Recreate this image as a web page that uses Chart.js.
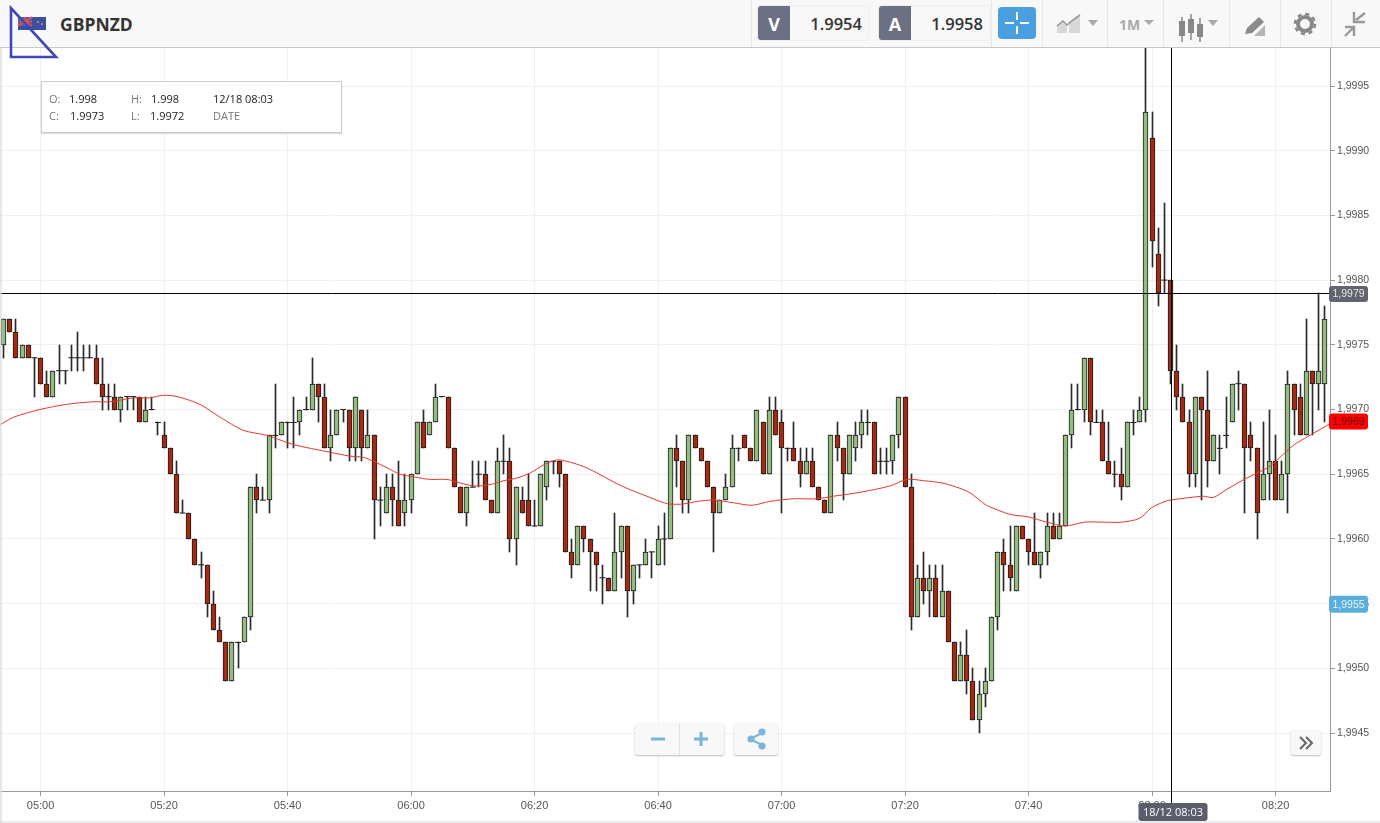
<!DOCTYPE html>
<html>
<head>
<meta charset="utf-8">
<title>GBPNZD</title>
<script src="https://cdn.jsdelivr.net/npm/chart.js@4/dist/chart.umd.min.js"></script>
<style>
  html, body { margin: 0; padding: 0; background: #fff; overflow: hidden; }
  body { width: 1380px; height: 823px; position: relative; font-family: "Open Sans", sans-serif; }
  #priceChart { position: absolute; left: 0; top: 0; }
  .abs { position: absolute; }
  #topbar { position: absolute; left: 0; top: 0; width: 1380px; height: 47px; background: #f8f8f8; border-bottom: 1px solid #c9c9c9; }
  .sep { position: absolute; top: 0; width: 1px; height: 47px; background: #e6e6e6; }
  .quote { position: absolute; top: 5px; width: 112px; height: 36px; border: 1px solid #eee; border-radius: 3px; box-sizing: border-box; }
  .quote b { position: absolute; left: 0; top: 0; width: 32px; height: 34px; background: #6b7084; color: #fff; font-size: 18px; line-height: 36px; text-align: center; border-radius: 3px 0 0 3px; }
  .quote span { position: absolute; right: 6px; top: 0; font-size: 16.5px; line-height: 36px; font-weight: 600; color: #333; }
  #symbol { position: absolute; left: 60px; top: 12px; font-size: 17.5px; line-height: 24px; font-weight: 700; color: #333; }
  #info { position: absolute; left: 41px; top: 81px; width: 299px; height: 50px; background: #fff; border: 1px solid #ccc; box-shadow: 0 1px 1px #ddd; font-size: 11px; line-height: 14px; color: #222; }
  #info span { position: absolute; white-space: nowrap; }
  #info .k { color: #777; }
  .btn { position: absolute; background: #f8f8f8; border-radius: 3px; box-shadow: 0 1px 2px #bbb; color: #7ab6dc; text-align: center; }
  #edge { position: absolute; left: 0; top: 48px; width: 3px; height: 775px; background: linear-gradient(to right, #ddd, rgba(255,255,255,0)); }
  #foot { position: absolute; left: 0; top: 821px; width: 1380px; height: 2px; background: #ececec; }
</style>
</head>
<body>
<div id="foot"></div>
<canvas id="priceChart" width="1380" height="823"></canvas>
<div id="edge"></div>

<div id="topbar">
  <div class="sep" style="left:751px"></div>
  <div class="sep" style="left:991px"></div>
  <div class="sep" style="left:1042px"></div>
  <div class="sep" style="left:1107px"></div>
  <div class="sep" style="left:1163px"></div>
  <div class="sep" style="left:1229px"></div>
  <div class="sep" style="left:1280px"></div>
  <div class="sep" style="left:1331px"></div>
  <div id="symbol">GBPNZD</div>
  <div class="quote" style="left:757px"><b>V</b><span>1.9954</span></div>
  <div class="quote" style="left:878px"><b>A</b><span>1.9958</span></div>
  <div class="abs" style="left:998px;top:7px;width:38px;height:32px;background:#4a9fe0;border-radius:4px"></div>
  <svg class="abs" style="left:0;top:0" width="1380" height="47">
    <!-- flag -->
    <rect x="18" y="17" width="28" height="13" fill="#3b4f9e"/>
    <rect x="18" y="17" width="14" height="9" fill="#5a5f96"/>
    <path d="M18 17L32 26M32 17L18 26M25 17V26M18 21.5H32" stroke="#d9525e" stroke-width="1.6"/>
    <circle cx="38" cy="22" r="1" fill="#e88"/><circle cx="42" cy="24" r="1" fill="#e88"/>
    <!-- crosshair button -->
    <path d="M1005 23H1014M1020 23H1029M1017 12V20M1017 26V34" stroke="#fff" stroke-width="2"/>
    <!-- area icon -->
    <path d="M1057 33V26L1063 22L1067 26V33ZM1069 33V22L1080 16V33Z" fill="#d8d8d8"/>
    <path d="M1057 26L1063 21L1067 25L1073 20L1080 15" stroke="#999" stroke-width="1.6" fill="none"/>
    <path d="M1088 20H1098L1093 26Z" fill="#aaa"/>
    <text x="1119" y="30" font-family="Open Sans" font-size="14" font-weight="700" fill="#aaa">1M</text>
    <path d="M1144 20H1154L1149 25Z" fill="#aaa"/>
    <!-- candles icon -->
    <path d="M1182 17V42M1191 14V40M1200 18V42" stroke="#888" stroke-width="1.5"/>
    <path d="M1179 21h6v15h-6zM1188 19h6v14h-6zM1197 24h6v13h-6z" fill="#888"/>
    <path d="M1208 20H1218L1213 26Z" fill="#aaa"/>
    <!-- drawing icon -->
    <path d="M1245 34L1247 28L1259 17L1264 22L1252 33Z" fill="#8a8a8a"/>
    <path d="M1254 36L1265 25V36Z" fill="#b5b5b5"/>
    <!-- gear -->
    <circle cx="1305" cy="24" r="7" fill="none" stroke="#888" stroke-width="4"/>
    <circle cx="1305" cy="24" r="10" fill="none" stroke="#888" stroke-width="2.6" stroke-dasharray="4 3.85"/>
    <!-- collapse arrows -->
    <path d="M1356 20L1365 13M1354 12V22H1365" stroke="#999" stroke-width="2.4" fill="none"/>
    <path d="M1345 36L1353 28M1345 27H1354V36" stroke="#999" stroke-width="2.4" fill="none"/>
  </svg>
</div>

<svg class="abs" style="left:0;top:0" width="70" height="70">
  <path d="M11 8V57H56Z" fill="none" stroke="#3f48b8" stroke-width="2.6"/>
</svg>

<div id="info">
  <span class="k" style="left:7px;top:10px">O:</span><span style="left:27px;top:10px">1.998</span>
  <span class="k" style="left:89px;top:10px">H:</span><span style="left:109px;top:10px">1.998</span>
  <span style="left:171px;top:10px">12/18 08:03</span>
  <span class="k" style="left:7px;top:27px">C:</span><span style="left:28px;top:27px">1.9973</span>
  <span class="k" style="left:89px;top:27px">L:</span><span style="left:108px;top:27px">1.9972</span>
  <span class="k" style="left:171px;top:27px">DATE</span>
</div>

<div class="btn" style="left:635px;top:723px;width:89px;height:32px"></div>
<div class="abs" style="left:679px;top:723px;width:1px;height:32px;background:#e2e2e2"></div>
<div class="btn" style="left:734px;top:723px;width:44px;height:32px"></div>
<div class="btn" style="left:1291px;top:730px;width:30px;height:25px"></div>
<svg class="abs" style="left:0;top:700px" width="1380" height="70">
  <path d="M651 39H665M694 39H708M701 32V46" stroke="#7ab6dc" stroke-width="3"/>
  <path d="M762 33L750 39L762 45" stroke="#7ab6dc" stroke-width="2" fill="none"/>
  <circle cx="762" cy="32" r="3.6" fill="#7ab6dc"/><circle cx="751" cy="39" r="3.6" fill="#7ab6dc"/><circle cx="762" cy="46" r="3.6" fill="#7ab6dc"/>
  <path d="M1300 37L1306 43L1300 49M1306 37L1312 43L1306 49" stroke="#666" stroke-width="2" fill="none"/>
</svg>

<script>
// first candle is 04:54, one candle per minute
const firstMinute = 294;

const opens = [
  1.9975,1.9977,1.9976,1.9974,1.9975,1.9974,1.9974,1.9972,1.9971,1.9973,
  1.9973,1.9974,1.9974,1.9974,1.9974,1.9974,1.9972,1.9971,1.9971,1.9970,
  1.9971,1.9971,1.9971,1.9969,1.9970,1.9969,1.9968,1.9967,1.9965,1.9962,
  1.9962,1.9960,1.9958,1.9958,1.9955,1.9953,1.9952,1.9949,1.9952,1.9952,
  1.9954,1.9964,1.9963,1.9963,1.9968,1.9968,1.9969,1.9969,1.9969,1.9970,
  1.9970,1.9972,1.9971,1.9967,1.9968,1.9970,1.9970,1.9967,1.9970,1.9967,
  1.9968,1.9963,1.9962,1.9964,1.9963,1.9962,1.9963,1.9965,1.9969,1.9968,
  1.9969,1.9971,1.9971,1.9967,1.9964,1.9962,1.9964,1.9965,1.9965,1.9963,
  1.9962,1.9966,1.9966,1.9960,1.9963,1.9963,1.9961,1.9961,1.9964,1.9966,
  1.9966,1.9965,1.9959,1.9958,1.9961,1.9960,1.9959,1.9957,1.9957,1.9956,
  1.9959,1.9961,1.9956,1.9958,1.9958,1.9959,1.9958,1.9960,1.9960,1.9967,
  1.9966,1.9963,1.9968,1.9967,1.9966,1.9964,1.9962,1.9963,1.9964,1.9967,
  1.9968,1.9967,1.9966,1.9969,1.9965,1.9970,1.9969,1.9967,1.9967,1.9966,
  1.9965,1.9966,1.9964,1.9963,1.9962,1.9968,1.9967,1.9965,1.9967,1.9968,
  1.9969,1.9969,1.9966,1.9966,1.9966,1.9968,1.9971,1.9964,1.9954,1.9957,
  1.9956,1.9957,1.9954,1.9956,1.9952,1.9949,1.9951,1.9949,1.9946,1.9948,
  1.9949,1.9954,1.9959,1.9958,1.9956,1.9961,1.9960,1.9959,1.9958,1.9959,
  1.9961,1.9960,1.9961,1.9968,1.9970,1.9970,1.9974,1.9969,1.9969,1.9966,
  1.9965,1.9965,1.9964,1.9969,1.9969,1.9970,1.9991,1.9982,1.9980,1.9980,
  1.9973,1.9971,1.9969,1.9965,1.9971,1.9970,1.9966,1.9967,1.9968,1.9969,
  1.9972,1.9972,1.9968,1.9967,1.9963,1.9965,1.9966,1.9963,1.9965,1.9972,
  1.9971,1.9968,1.9973,1.9972,1.9972
];
const closes = [
  1.9977,1.9976,1.9974,1.9975,1.9974,1.9974,1.9972,1.9971,1.9973,1.9973,
  1.9973,1.9974,1.9974,1.9974,1.9974,1.9972,1.9971,1.9971,1.9970,1.9971,
  1.9971,1.9971,1.9969,1.9970,1.9970,1.9969,1.9967,1.9965,1.9962,1.9962,
  1.9960,1.9958,1.9958,1.9955,1.9953,1.9952,1.9949,1.9952,1.9952,1.9954,
  1.9964,1.9963,1.9963,1.9968,1.9968,1.9969,1.9969,1.9969,1.9970,1.9970,
  1.9972,1.9971,1.9967,1.9968,1.9970,1.9970,1.9967,1.9971,1.9967,1.9968,
  1.9963,1.9963,1.9964,1.9963,1.9961,1.9963,1.9965,1.9969,1.9967,1.9969,
  1.9971,1.9971,1.9967,1.9964,1.9962,1.9964,1.9964,1.9965,1.9963,1.9962,
  1.9966,1.9966,1.9960,1.9964,1.9962,1.9961,1.9961,1.9965,1.9966,1.9966,
  1.9965,1.9959,1.9958,1.9961,1.9960,1.9959,1.9958,1.9957,1.9956,1.9959,
  1.9961,1.9956,1.9958,1.9958,1.9959,1.9959,1.9960,1.9960,1.9967,1.9966,
  1.9963,1.9968,1.9967,1.9966,1.9964,1.9962,1.9963,1.9964,1.9967,1.9967,
  1.9967,1.9966,1.9970,1.9965,1.9970,1.9968,1.9967,1.9967,1.9966,1.9965,
  1.9966,1.9964,1.9963,1.9962,1.9968,1.9967,1.9965,1.9968,1.9968,1.9969,
  1.9969,1.9965,1.9966,1.9966,1.9968,1.9971,1.9964,1.9954,1.9957,1.9956,
  1.9957,1.9954,1.9956,1.9952,1.9949,1.9951,1.9949,1.9946,1.9948,1.9949,
  1.9954,1.9959,1.9958,1.9957,1.9961,1.9960,1.9959,1.9958,1.9959,1.9961,
  1.9960,1.9961,1.9968,1.9970,1.9970,1.9974,1.9969,1.9969,1.9966,1.9965,
  1.9965,1.9964,1.9969,1.9969,1.9970,1.9993,1.9983,1.9979,1.9980,1.9973,
  1.9971,1.9969,1.9965,1.9971,1.9970,1.9966,1.9968,1.9967,1.9968,1.9972,
  1.9972,1.9967,1.9967,1.9962,1.9965,1.9966,1.9963,1.9965,1.9972,1.9970,
  1.9968,1.9973,1.9972,1.9973,1.9977
];
const highs = [
  1.9977,1.9977,1.9977,1.9975,1.9975,1.9974,1.9974,1.9973,1.9973,1.9975,
  1.9973,1.9975,1.9976,1.9975,1.9975,1.9975,1.9974,1.9972,1.9972,1.9971,
  1.9971,1.9971,1.9971,1.9971,1.9971,1.9969,1.9969,1.9967,1.9966,1.9963,
  1.9962,1.9960,1.9959,1.9958,1.9956,1.9954,1.9952,1.9952,1.9952,1.9954,
  1.9964,1.9965,1.9964,1.9968,1.9972,1.9969,1.9969,1.9971,1.9970,1.9971,
  1.9974,1.9972,1.9972,1.9970,1.9970,1.9970,1.9970,1.9971,1.9970,1.9970,
  1.9968,1.9964,1.9965,1.9965,1.9966,1.9965,1.9965,1.9969,1.9970,1.9969,
  1.9972,1.9971,1.9971,1.9967,1.9964,1.9964,1.9966,1.9966,1.9966,1.9963,
  1.9967,1.9968,1.9967,1.9964,1.9964,1.9965,1.9963,1.9965,1.9966,1.9966,
  1.9966,1.9965,1.9960,1.9961,1.9961,1.9960,1.9959,1.9958,1.9957,1.9962,
  1.9961,1.9961,1.9958,1.9958,1.9960,1.9959,1.9961,1.9962,1.9967,1.9968,
  1.9966,1.9968,1.9968,1.9967,1.9966,1.9964,1.9963,1.9965,1.9968,1.9967,
  1.9968,1.9967,1.9970,1.9969,1.9971,1.9971,1.9970,1.9967,1.9969,1.9967,
  1.9967,1.9967,1.9964,1.9963,1.9968,1.9969,1.9967,1.9968,1.9969,1.9970,
  1.9970,1.9969,1.9967,1.9967,1.9968,1.9971,1.9971,1.9965,1.9958,1.9959,
  1.9958,1.9958,1.9958,1.9956,1.9952,1.9952,1.9953,1.9950,1.9949,1.9950,
  1.9954,1.9959,1.9960,1.9961,1.9961,1.9961,1.9960,1.9962,1.9959,1.9962,
  1.9962,1.9962,1.9968,1.9972,1.9972,1.9974,1.9974,1.9970,1.9970,1.9969,
  1.9966,1.9967,1.9969,1.9970,1.9971,1.9999,1.9993,1.9984,1.9986,1.9980,
  1.9975,1.9972,1.9970,1.9971,1.9971,1.9973,1.9968,1.9968,1.9971,1.9972,
  1.9973,1.9972,1.9969,1.9967,1.9969,1.9970,1.9968,1.9966,1.9973,1.9972,
  1.9972,1.9977,1.9973,1.9979,1.9978
];
const lows = [
  1.9974,1.9976,1.9974,1.9974,1.9974,1.9971,1.9972,1.9971,1.9971,1.9972,
  1.9972,1.9973,1.9973,1.9973,1.9974,1.9972,1.9970,1.9970,1.9970,1.9969,
  1.9970,1.9970,1.9969,1.9969,1.9970,1.9968,1.9967,1.9965,1.9962,1.9962,
  1.9960,1.9958,1.9957,1.9954,1.9953,1.9952,1.9949,1.9949,1.9950,1.9952,
  1.9953,1.9962,1.9963,1.9962,1.9967,1.9968,1.9967,1.9967,1.9968,1.9970,
  1.9970,1.9969,1.9967,1.9966,1.9968,1.9969,1.9966,1.9966,1.9966,1.9967,
  1.9960,1.9961,1.9962,1.9961,1.9961,1.9961,1.9962,1.9965,1.9967,1.9968,
  1.9969,1.9971,1.9967,1.9964,1.9962,1.9961,1.9964,1.9964,1.9963,1.9962,
  1.9962,1.9965,1.9959,1.9958,1.9962,1.9961,1.9961,1.9961,1.9963,1.9965,
  1.9964,1.9959,1.9957,1.9958,1.9959,1.9956,1.9956,1.9955,1.9956,1.9956,
  1.9957,1.9954,1.9955,1.9957,1.9958,1.9957,1.9958,1.9958,1.9960,1.9964,
  1.9962,1.9962,1.9967,1.9966,1.9964,1.9959,1.9962,1.9963,1.9964,1.9966,
  1.9967,1.9966,1.9966,1.9965,1.9965,1.9968,1.9962,1.9966,1.9966,1.9964,
  1.9965,1.9964,1.9963,1.9962,1.9962,1.9966,1.9963,1.9965,1.9966,1.9967,
  1.9968,1.9965,1.9965,1.9965,1.9965,1.9967,1.9964,1.9953,1.9954,1.9955,
  1.9954,1.9954,1.9954,1.9952,1.9949,1.9949,1.9948,1.9946,1.9945,1.9947,
  1.9949,1.9953,1.9956,1.9956,1.9956,1.9960,1.9958,1.9958,1.9957,1.9958,
  1.9960,1.9960,1.9961,1.9967,1.9970,1.9969,1.9968,1.9969,1.9966,1.9965,
  1.9964,1.9963,1.9964,1.9968,1.9969,1.9969,1.9981,1.9978,1.9979,1.9972,
  1.9970,1.9969,1.9964,1.9964,1.9963,1.9964,1.9966,1.9965,1.9967,1.9969,
  1.9970,1.9962,1.9966,1.9960,1.9963,1.9963,1.9963,1.9963,1.9962,1.9968,
  1.9968,1.9968,1.9968,1.9970,1.9969
];

// moving average (minute of day, price)
const maMinutes = [
  293.4,295.6,299.9,304.2,308.5,311.2,315,317.7,319.8,322.1,325.8,329.1,332.8,336.7,340.9,
  346.9,350.1,352.3,353.9,356.1,358.2,360.4,363.1,365.8,367.4,370.1,372.8,375,377.1,379.3,
  381.4,383.6,385.2,387.9,390.1,392.8,395.5,398.2,400.3,401.9,404.1,406.3,409,412.2,415.2,
  418.1,421.9,425.7,428.4,432.7,437.6,440.3,443,446.2,450,452.1,453.2,457,460,462.9,
  465.9,469.1,471.8,475.1,478,479.9,482.1,482.9,488.3,489.9,492,495.3,499,502.3,503.4,508.8
];
const maValues = [
  1.99688,1.99694,1.99700,1.99704,1.99706,1.99706,1.99709,1.99709,1.99711,1.99710,1.99704,1.99694,1.99684,1.99680,1.99673,
  1.99667,1.99664,1.99663,1.99660,1.99655,1.99650,1.99648,1.99646,1.99646,1.99644,1.99641,1.99642,1.99645,1.99647,1.99651,
  1.99657,1.99661,1.99660,1.99656,1.99651,1.99644,1.99638,1.99633,1.99629,1.99627,1.99627,1.99629,1.99630,1.99628,1.99626,
  1.99629,1.99631,1.99631,1.99633,1.99636,1.99641,1.99646,1.99645,1.99643,1.99637,1.99630,1.99626,1.99619,1.99617,1.99613,
  1.99610,1.99613,1.99613,1.99613,1.99616,1.99624,1.99629,1.99630,1.99633,1.99632,1.99638,1.99647,1.99656,1.99670,1.99674,1.99689
];

const yTicksStep = 0.0005;
const xTicksStep = 20;
const crossPrice = 1.9979;
const crossMinute = 483;
const crossLabel = '18/12 08:03';
const bidPrice = 1.9969;
const askPrice = 1.9955;

const upColor = '#93bc81';
const downColor = '#a52a12';
const edgeColor = '#1c1c1c';

const minutes = opens.map((_, i) => firstMinute + i);
const fmtPrice = v => v.toFixed(4).replace('.', ',');
const fmtTime = m => String(Math.floor(m / 60)).padStart(2, '0') + ':' + String(m % 60).padStart(2, '0');

// snap candles to whole pixels, otherwise the 1px wicks go blurry
const snapCandles = {
  id: 'snapCandles',
  afterDatasetsUpdate(chart) {
    chart.data.datasets.forEach((ds, idx) => {
      if (ds.type !== 'bar') return;
      chart.getDatasetMeta(idx).data.forEach(el => {
        el.x = Math.floor(el.x) + 0.5;
        el.y = Math.round(el.y);
        el.base = Math.round(el.base);
      });
    });
  }
};

function badge(ctx, left, top, w, h, bg, fg, text) {
  ctx.fillStyle = bg;
  ctx.beginPath();
  ctx.roundRect(left, top, w, h, 3);
  ctx.fill();
  ctx.fillStyle = fg;
  ctx.textAlign = 'center';
  ctx.textBaseline = 'middle';
  ctx.fillText(text, left + w / 2, top + h / 2 + 0.5);
}

const crosshair = {
  id: 'crosshair',
  afterDraw(chart) {
    const { ctx, chartArea, scales } = chart;
    const cx = Math.round(scales.x.getPixelForValue(crossMinute)) + 0.5;
    const cy = Math.round(scales.y.getPixelForValue(crossPrice)) + 0.5;
    ctx.save();
    ctx.strokeStyle = '#000';
    ctx.lineWidth = 1;
    ctx.beginPath();
    ctx.moveTo(chartArea.left, cy);
    ctx.lineTo(chartArea.right, cy);
    ctx.moveTo(cx, chartArea.top);
    ctx.lineTo(cx, chartArea.bottom + 14);
    ctx.stroke();
    ctx.font = '10.5px "Liberation Sans"';
    const bx = chartArea.right - 1;
    badge(ctx, bx, scales.y.getPixelForValue(bidPrice) - 9, 39, 16, '#ff0000', '#5a1010', fmtPrice(bidPrice));
    badge(ctx, bx, scales.y.getPixelForValue(askPrice) - 8, 39, 17, '#5aaedb', '#e8f4fb', fmtPrice(askPrice));
    badge(ctx, bx, cy - 7.5, 39, 16, '#62646f', '#e6e6e6', fmtPrice(crossPrice));
    ctx.font = '11px "Open Sans"';
    badge(ctx, cx - 33, 803, 69, 18, '#5b5d6b', '#fff', crossLabel);
    ctx.restore();
  }
};

new Chart(document.getElementById('priceChart').getContext('2d'), {
  data: {
    datasets: [
      {
        type: 'line',
        label: 'MA',
        data: maMinutes.map((m, i) => ({ x: m, y: maValues[i] })),
        borderColor: '#e2382e',
        borderWidth: 1,
        pointRadius: 0,
        tension: 0.3,
        order: 0
      },
      {
        // open == close candles have no body, only a small dash
        type: 'line',
        label: 'Doji',
        data: minutes.map((m, i) => ({ x: m, y: closes[i] })).filter((_, i) => opens[i] === closes[i]),
        showLine: false,
        pointStyle: 'line',
        pointRadius: 3,
        pointBorderWidth: 1,
        pointBorderColor: edgeColor,
        order: 1
      },
      {
        type: 'bar',
        label: 'Body',
        data: minutes.map((m, i) => ({ x: m, y: [opens[i], closes[i]] })),
        backgroundColor: minutes.map((_, i) => closes[i] >= opens[i] ? upColor : downColor),
        borderColor: edgeColor,
        borderWidth: 1,
        borderSkipped: false,
        barThickness: 5,
        grouped: false,
        order: 2
      },
      {
        type: 'bar',
        label: 'Wick',
        data: minutes.map((m, i) => ({ x: m, y: [lows[i], highs[i]] })),
        backgroundColor: '#2a2a2a',
        barThickness: 1,
        grouped: false,
        order: 3
      }
    ]
  },
  options: {
    responsive: false,
    animation: false,
    events: [],
    layout: { padding: { top: 48 }, autoPadding: false },
    plugins: { legend: { display: false }, tooltip: { enabled: false } },
    scales: {
      x: {
        type: 'linear',
        offset: false,
        min: 293.43,
        max: 508.82,
        grid: { offset: false, color: '#f0f0f0', tickColor: '#999', tickLength: 5 },
        border: { color: '#999' },
        ticks: {
          stepSize: xTicksStep,
          includeBounds: false,
          autoSkip: false,
          maxRotation: 0,
          padding: 3,
          color: '#555',
          font: { family: '"Liberation Sans"', size: 11 },
          callback: v => fmtTime(v)
        },
        afterFit(scale) { scale.height = 32; }
      },
      y: {
        position: 'right',
        min: 1.994052,
        max: 1.999794,
        grid: { color: '#f0f0f0', tickColor: '#999', tickLength: 5 },
        border: { color: '#999' },
        ticks: {
          stepSize: yTicksStep,
          includeBounds: false,
          autoSkip: false,
          maxTicksLimit: 30,
          padding: 2,
          color: '#555',
          font: { family: '"Liberation Sans"', size: 10.5 },
          callback: v => fmtPrice(v)
        },
        afterFit(scale) { scale.width = 50; }
      }
    }
  },
  plugins: [snapCandles, crosshair]
});
</script>
</body>
</html>
